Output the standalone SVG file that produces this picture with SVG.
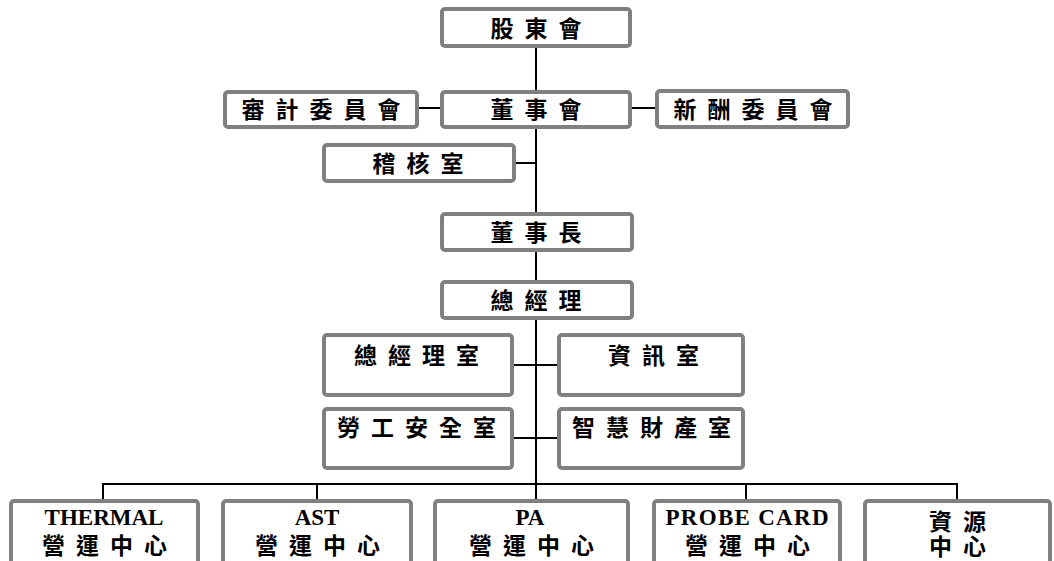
<svg xmlns="http://www.w3.org/2000/svg" width="1054" height="561" viewBox="0 0 1054 561">
<style>
.box{fill:#ffffff;stroke:#808080;stroke-width:4}
.ln{stroke:#000000;stroke-width:2;fill:none}
.t{font-family:"Liberation Serif","Noto Sans CJK TC","Noto Sans CJK JP",serif;font-weight:bold;font-size:23px;letter-spacing:11px;text-anchor:middle;fill:#000000}
.e{font-family:"Liberation Serif","Noto Sans CJK TC",serif;font-weight:bold;font-size:23px;text-anchor:middle;fill:#000000}
</style>
<rect width="1054" height="561" fill="#ffffff"/>
<g id="connectors">
<path class="ln" d="M536 47V499"/>
<path class="ln" d="M418 108H440M632 108H655"/>
<path class="ln" d="M516 163H536"/>
<path class="ln" d="M514 365H557M514 438H557"/>
<path class="ln" d="M103 484H957M103 483V499M317 483V499M746 483V499M957 483V499"/>
</g>
<g id="n-gudonghui"><rect class="box" x="442" y="9" width="188" height="37" rx="3"/><text class="t" x="541.5" y="36.5">股東會</text></g>
<g id="n-dongshihui"><rect class="box" x="442" y="92" width="188" height="35" rx="3"/><text class="t" x="541.5" y="117.5">董事會</text></g>
<g id="n-shenji"><rect class="box" x="225" y="92" width="192" height="35" rx="3"/><text class="t" x="326.5" y="117.5">審計委員會</text></g>
<g id="n-xinchou"><rect class="box" x="657" y="91" width="191" height="36" rx="3"/><text class="t" x="758.5" y="117.5">新酬委員會</text></g>
<g id="n-jihe"><rect class="box" x="324" y="145" width="190" height="36" rx="3"/><text class="t" x="423.5" y="171.5">稽核室</text></g>
<g id="n-dongshizhang"><rect class="box" x="442" y="214" width="190" height="36" rx="3"/><text class="t" x="541.5" y="240.5">董事長</text></g>
<g id="n-zongjingli"><rect class="box" x="442" y="282" width="190" height="36" rx="3"/><text class="t" x="541.5" y="308.5">總經理</text></g>
<g id="n-zjlshi"><rect class="box" x="324" y="335" width="188" height="60" rx="3"/><text class="t" x="422" y="363.5">總經理室</text></g>
<g id="n-zixun"><rect class="box" x="559" y="335" width="184" height="60" rx="3"/><text class="t" x="659" y="363.5">資訊室</text></g>
<g id="n-laogong"><rect class="box" x="324" y="409" width="188" height="59" rx="3"/><text class="t" x="422" y="435.5">勞工安全室</text></g>
<g id="n-zhihui"><rect class="box" x="559" y="409" width="184" height="59" rx="3"/><text class="t" x="657" y="435.5">智慧財產室</text></g>
<g id="n-thermal"><rect class="box" x="11" y="501" width="187" height="80" rx="3"/><text class="e" x="104" y="525">THERMAL</text><text class="t" x="110" y="553.5">營運中心</text></g>
<g id="n-ast"><rect class="box" x="223" y="501" width="188" height="80" rx="3"/><text class="e" x="317" y="525">AST</text><text class="t" x="323" y="553.5">營運中心</text></g>
<g id="n-pa"><rect class="box" x="435" y="501" width="193" height="80" rx="3"/><text class="e" x="530" y="525">PA</text><text class="t" x="537" y="553.5">營運中心</text></g>
<g id="n-probe"><rect class="box" x="654" y="501" width="186" height="80" rx="3"/><text class="e" x="747" y="525" textLength="163" lengthAdjust="spacing">PROBE CARD</text><text class="t" x="753" y="553.5">營運中心</text></g>
<g id="n-ziyuan"><rect class="box" x="865" y="501" width="185" height="80" rx="3"/><text class="t" x="963" y="529.5">資源</text><text class="t" x="963" y="554.5">中心</text></g>
</svg>
